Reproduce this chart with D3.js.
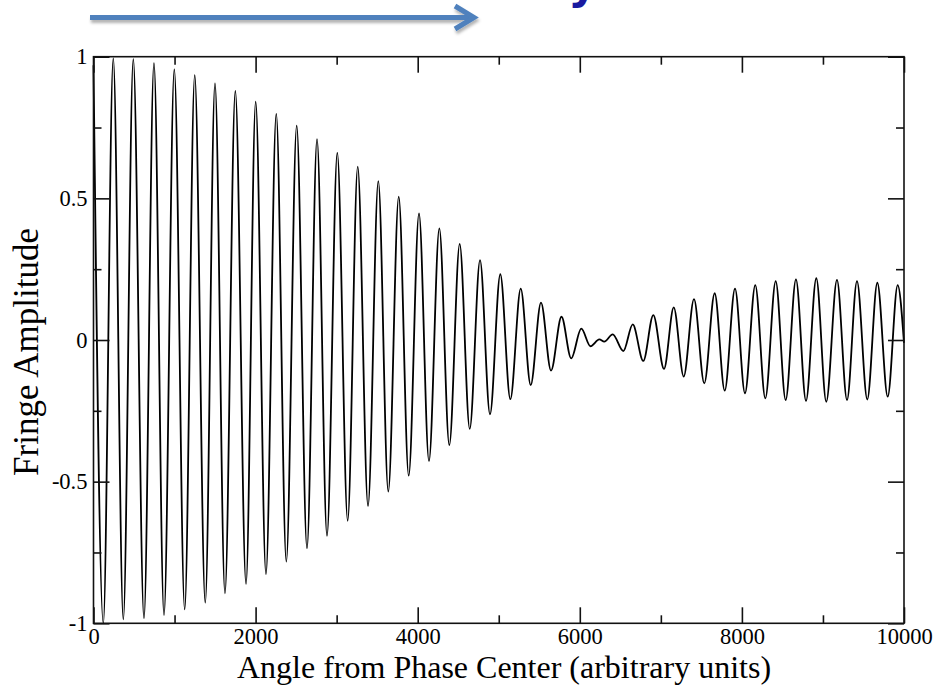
<!DOCTYPE html>
<html>
<head>
<meta charset="utf-8">
<script src="https://cdn.jsdelivr.net/npm/d3@7"></script>
<style>
  html, body { margin: 0; padding: 0; background: #fff; }
  svg { display: block; }
</style>
</head>
<body>
<svg id="chart" width="935" height="685"></svg>
<script>
// Fringe extrema (angle units, amplitude)
const angles = [0,121,244,368,491,623,746,870,997,1125,1249,1379,1499,1622,1750,1882,2001,2128,2255,2379,2507,2634,2758,2881,3008,3136,3260,3387,3514,3637,3766,3889,4016,4139,4267,4390,4518,4642,4769,4892,5019,5143,5271,5394,5521,5645,5774,5894,6018,6132,6241,6302,6406,6537,6653,6783,6907,7039,7159,7282,7409,7536,7664,7788,7915,8038,8165,8289,8417,8540,8667,8791,8918,9041,9173,9297,9420,9547,9671,9799,9922,10000];
const amplitude = [0.97,-1.0,0.994,-0.986,0.991,-0.982,0.977,-0.971,0.955,-0.951,0.935,-0.927,0.906,-0.894,0.879,-0.861,0.841,-0.826,0.798,-0.782,0.757,-0.735,0.709,-0.691,0.661,-0.638,0.612,-0.586,0.561,-0.535,0.506,-0.479,0.447,-0.427,0.394,-0.371,0.339,-0.314,0.282,-0.262,0.232,-0.209,0.181,-0.159,0.132,-0.108,0.082,-0.065,0.040,-0.022,0.002,-0.006,0.020,-0.039,0.055,-0.074,0.088,-0.102,0.115,-0.129,0.144,-0.153,0.165,-0.179,0.181,-0.188,0.194,-0.206,0.208,-0.212,0.214,-0.215,0.218,-0.218,0.212,-0.212,0.208,-0.210,0.202,-0.200,0.194,-0.01];

const xMajorTicks = [0,2000,4000,6000,8000,10000];
const xMinorTicks = [1000,3000,5000,7000,9000];
const yMajorTicks = [-1,-0.5,0,0.5,1];
const yMinorTicks = [-0.75,-0.25,0.25,0.75];
const yTickLabels = ["-1","-0.5","0","0.5","1"];
const xTitle = "Angle from Phase Center (arbitrary units)";
const yTitle = "Fringe Amplitude";

const svg = d3.select("#chart");
const L = 93.5, R = 904, T = 56.7, B = 623.3;
const x = d3.scaleLinear().domain([0,10000]).range([L,R]);
const y = d3.scaleLinear().domain([-1,1]).range([B,T]);

// decorative blue arrow at the top
const defs = svg.append("defs");
const f = defs.append("filter").attr("id","sh").attr("x","-10%").attr("y","-100%").attr("width","120%").attr("height","400%");
f.append("feDropShadow").attr("dx",1).attr("dy",3).attr("stdDeviation",1.5).attr("flood-color","#000").attr("flood-opacity",0.3);
const arrow = svg.append("g").attr("filter","url(#sh)")
  .attr("fill","none").attr("stroke","#4f81bd").attr("stroke-width",5);
arrow.append("line").attr("x1",90).attr("y1",17.5).attr("x2",472).attr("y2",17.5);
arrow.append("path").attr("d","M455,6 L474,17.5 L455,29").attr("stroke-linejoin","miter");

// fragment of clipped heading text
svg.append("text").attr("x",568).attr("y",-2)
  .attr("font-family","DejaVu Sans").attr("font-weight","bold").attr("font-size",46)
  .attr("fill","#1a1aa0").text("y");

// data line
const line = d3.line().x((d,i)=>x(angles[i])).y(d=>y(d)).curve(d3.curveMonotoneX);
svg.append("path").datum(amplitude)
  .attr("d", line).attr("fill","none").attr("stroke","#000").attr("stroke-width",1.8);

// axes (ticks inward)
const font = "Liberation Serif";
function styleAxis(g){
  g.select(".domain").remove();
  g.selectAll(".tick line").attr("stroke","#111").attr("stroke-width",1.6);
  g.selectAll(".tick text").attr("font-family",font).attr("font-size",22.5).attr("fill","#000");
}
svg.append("g").attr("transform",`translate(0,${B})`)
  .call(d3.axisBottom(x).tickValues(xMajorTicks).tickSize(-16).tickPadding(5).tickFormat(d3.format("d")))
  .call(styleAxis);
svg.append("g").attr("transform",`translate(0,${B})`)
  .call(d3.axisBottom(x).tickValues(xMinorTicks).tickSize(-8).tickFormat(""))
  .call(styleAxis);
svg.append("g").attr("transform",`translate(0,${T})`)
  .call(d3.axisTop(x).tickValues(xMajorTicks).tickSize(-16).tickFormat(""))
  .call(styleAxis);
svg.append("g").attr("transform",`translate(0,${T})`)
  .call(d3.axisTop(x).tickValues(xMinorTicks).tickSize(-8).tickFormat(""))
  .call(styleAxis);
svg.append("g").attr("transform",`translate(${L},0)`)
  .call(d3.axisLeft(y).tickValues(yMajorTicks).tickSize(-16).tickPadding(6).tickFormat((d,i)=>yTickLabels[i]))
  .call(styleAxis);
svg.append("g").attr("transform",`translate(${L},0)`)
  .call(d3.axisLeft(y).tickValues(yMinorTicks).tickSize(-8).tickFormat(""))
  .call(styleAxis);
svg.append("g").attr("transform",`translate(${R},0)`)
  .call(d3.axisRight(y).tickValues(yMajorTicks).tickSize(-16).tickFormat(""))
  .call(styleAxis);
svg.append("g").attr("transform",`translate(${R},0)`)
  .call(d3.axisRight(y).tickValues(yMinorTicks).tickSize(-8).tickFormat(""))
  .call(styleAxis);

// frame
svg.append("rect").attr("x",L).attr("y",T).attr("width",R-L).attr("height",B-T)
  .attr("fill","none").attr("stroke","#111").attr("stroke-width",1.6);

// axis titles
svg.append("text").attr("x",504).attr("y",678).attr("text-anchor","middle")
  .attr("font-family",font).attr("font-size",32).attr("fill","#000").text(xTitle);
svg.append("text").attr("transform","translate(38,352) rotate(-90)").attr("text-anchor","middle")
  .attr("font-family",font).attr("font-size",35).attr("fill","#000").text(yTitle);
</script>
</body>
</html>
